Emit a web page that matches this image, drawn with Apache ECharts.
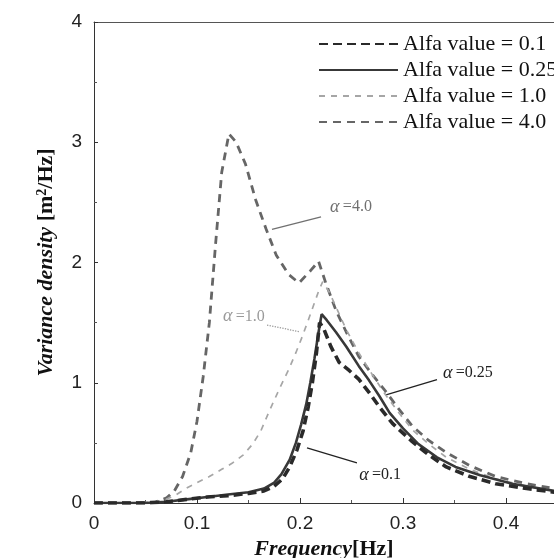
<!DOCTYPE html>
<html>
<head>
<meta charset="utf-8">
<script src="https://cdn.jsdelivr.net/npm/echarts@6/dist/echarts.min.js"></script>
<style>html,body{margin:0;padding:0;background:#fff}#c{width:554px;height:558px}</style>
</head>
<body>
<div id="c"></div>
<script>
// ---- data ----
const seriesNames = ['Alfa value = 0.1', 'Alfa value = 0.25', 'Alfa value = 1.0', 'Alfa value = 4.0'];
const xTicks = [0, 0.1, 0.2, 0.3, 0.4];
const yTicks = [0, 1, 2, 3, 4];

const f01 = [0, 0.05, 0.07, 0.09, 0.11, 0.13, 0.15, 0.165, 0.175, 0.183, 0.19, 0.197, 0.203, 0.208, 0.212, 0.216, 0.219, 0.223, 0.23, 0.238, 0.248, 0.257, 0.267, 0.277, 0.29, 0.309, 0.325, 0.342, 0.365, 0.39, 0.42, 0.447];
const v01 = [0, 0, 0.01, 0.03, 0.05, 0.06, 0.08, 0.1, 0.14, 0.2, 0.3, 0.44, 0.6, 0.8, 1.0, 1.25, 1.5, 1.45, 1.3, 1.17, 1.1, 1.03, 0.92, 0.8, 0.66, 0.51, 0.4, 0.3, 0.22, 0.16, 0.12, 0.09];

const f025 = [0, 0.05, 0.07, 0.09, 0.11, 0.13, 0.15, 0.165, 0.175, 0.182, 0.19, 0.196, 0.201, 0.206, 0.21, 0.214, 0.218, 0.221, 0.226, 0.235, 0.245, 0.257, 0.267, 0.277, 0.287, 0.3, 0.315, 0.333, 0.351, 0.375, 0.406, 0.447];
const v025 = [0, 0, 0.01, 0.03, 0.05, 0.07, 0.09, 0.12, 0.17, 0.24, 0.36, 0.5, 0.65, 0.82, 1.0, 1.2, 1.42, 1.57, 1.52, 1.42, 1.3, 1.14, 1.02, 0.89, 0.75, 0.62, 0.49, 0.38, 0.3, 0.23, 0.16, 0.1];

const f10 = [0, 0.04, 0.06, 0.07, 0.08, 0.089, 0.1, 0.112, 0.124, 0.134, 0.145, 0.154, 0.162, 0.17, 0.18, 0.189, 0.196, 0.202, 0.208, 0.213, 0.218, 0.222, 0.228, 0.235, 0.245, 0.257, 0.27, 0.283, 0.296, 0.309, 0.325, 0.342, 0.365, 0.39, 0.42, 0.447];
const v10 = [0, 0, 0.01, 0.03, 0.07, 0.12, 0.17, 0.22, 0.28, 0.33, 0.4, 0.49, 0.6, 0.76, 0.95, 1.11, 1.25, 1.38, 1.52, 1.64, 1.76, 1.84, 1.76, 1.63, 1.44, 1.25, 1.07, 0.9, 0.75, 0.61, 0.49, 0.38, 0.28, 0.2, 0.14, 0.1];

const f40 = [0, 0.04, 0.06, 0.07, 0.078, 0.086, 0.094, 0.1, 0.106, 0.112, 0.118, 0.124, 0.131, 0.138, 0.147, 0.157, 0.167, 0.177, 0.189, 0.199, 0.21, 0.218, 0.225, 0.235, 0.245, 0.257, 0.27, 0.283, 0.296, 0.309, 0.325, 0.342, 0.365, 0.39, 0.42, 0.447];
const v40 = [0, 0, 0.01, 0.04, 0.1, 0.22, 0.42, 0.68, 1.05, 1.5, 2.15, 2.75, 3.07, 3.0, 2.82, 2.52, 2.28, 2.06, 1.9, 1.83, 1.93, 2.01, 1.83, 1.6, 1.42, 1.22, 1.07, 0.93, 0.78, 0.64, 0.52, 0.42, 0.31, 0.22, 0.16, 0.12];

// annotations: label, text position [f, v], arrow from, arrow to
const annLabels = ['=4.0', '=1.0', '=0.25', '=0.1'];
const annText = [[0.2495, 2.46], [0.1456, 1.55], [0.363, 1.08], [0.2777, 0.233]];
const annFrom = [[0.2204, 2.38], [0.168, 1.48], [0.333, 1.025], [0.2553, 0.333]];
const annTo = [[0.1728, 2.275], [0.199, 1.425], [0.2835, 0.9], [0.2068, 0.458]];

const zip = (a, b) => a.map((x, i) => [x, b[i]]);

const styles = [
  {color: '#2a2a2a', width: 3.6, type: [9, 5], ann: '#222', arrow: true},
  {color: '#383838', width: 2.6, type: 'solid', ann: '#222', arrow: true},
  {color: '#a6a6a6', width: 1.7, type: [6, 6], ann: '#9a9a9a', arrow: false},
  {color: '#666666', width: 2.8, type: [8, 6], ann: '#707070', arrow: true}
];
const dataSets = [zip(f01, v01), zip(f025, v025), zip(f10, v10), zip(f40, v40)];
const annIndex = [3, 2, 1, 0]; // which annotation belongs to each series

const chart = echarts.init(document.getElementById('c'), null, {renderer: 'canvas'});

const series = seriesNames.map((name, i) => {
  const s = styles[i];
  const a = annIndex[i];
  return {
    name, type: 'line', data: dataSets[i], symbol: 'none', smooth: false, z: 10 - i,
    lineStyle: {color: s.color, width: s.width, type: s.type},
    itemStyle: {color: s.color},
    markLine: {
      silent: true, animation: false,
      symbol: ['none', s.arrow ? 'arrow' : 'none'], symbolSize: [0, 9],
      lineStyle: {color: s.ann, width: 1.3, type: s.arrow ? 'solid' : 'dotted'},
      label: {show: false},
      data: [[{coord: annFrom[a]}, {coord: annTo[a]}]]
    },
    markPoint: {
      silent: true, animation: false, symbol: 'circle', symbolSize: 0,
      label: {
        show: true, position: 'inside',
        formatter: '{g|α} {t|' + annLabels[a] + '}',
        rich: {
          g: {fontFamily: 'Liberation Serif', fontStyle: 'italic', fontSize: 18, color: s.ann},
          t: {fontFamily: 'Liberation Serif', fontSize: 16, color: s.ann}
        }
      },
      data: [{coord: annText[a]}]
    }
  };
});

chart.setOption({
  animation: false,
  backgroundColor: '#fff',
  grid: {left: 94, right: 0, top: 22, bottom: 55, containLabel: false, outerBoundsMode: 'none'},
  legend: {
    orient: 'vertical', left: 313, top: 28, itemWidth: 79, itemHeight: 14, itemGap: 4,
    selectedMode: false,
    itemStyle: {color: 'rgba(0,0,0,0)', opacity: 0, borderWidth: 0},
    textStyle: {fontFamily: 'Liberation Serif', fontSize: 22, color: '#111'},
    data: seriesNames
  },
  xAxis: [{
    type: 'value', min: 0, max: 0.4466, interval: 0.1,
    axisLine: {lineStyle: {color: '#333', width: 1}},
    axisTick: {inside: true, length: 5, lineStyle: {color: '#333'}},
    minorTick: {show: true, splitNumber: 2, length: 3, lineStyle: {color: '#555'}},
    splitLine: {show: false},
    axisLabel: {
      fontFamily: 'Liberation Sans', fontSize: 19, color: '#222', margin: 11,
      formatter: v => xTicks.some(t => Math.abs(t - v) < 1e-9) ? String(+v.toFixed(1)) : ''
    },
    name: '{i|Frequency}{n|[Hz]}', nameLocation: 'middle', nameGap: 29,
    nameTextStyle: {
      rich: {
        i: {fontFamily: 'Liberation Serif', fontStyle: 'italic', fontWeight: 'bold', fontSize: 22, color: '#111'},
        n: {fontFamily: 'Liberation Serif', fontWeight: 'bold', fontSize: 22, color: '#111'}
      }
    }
  }, {
    type: 'value', position: 'top', min: 0, max: 0.4466,
    axisLine: {show: true, onZero: false, lineStyle: {color: '#555', width: 1}},
    axisTick: {show: false}, axisLabel: {show: false}, splitLine: {show: false}
  }],
  yAxis: {
    type: 'value', min: 0, max: 4, interval: 1,
    axisLine: {show: true, lineStyle: {color: '#333', width: 1}},
    axisTick: {show: true, inside: true, length: 4, lineStyle: {color: '#333'}},
    minorTick: {show: true, splitNumber: 2, length: 3, lineStyle: {color: '#555'}},
    splitLine: {show: false},
    axisLabel: {
      fontFamily: 'Liberation Sans', fontSize: 19, color: '#222', margin: 12,
      formatter: v => yTicks.includes(v) ? String(v) : ''
    },
    name: '{i|Variance density }{n|[m}{s|2}{n|/Hz]}', nameLocation: 'middle', nameGap: 36,
    nameTextStyle: {
      rich: {
        i: {fontFamily: 'Liberation Serif', fontStyle: 'italic', fontWeight: 'bold', fontSize: 22, color: '#111'},
        n: {fontFamily: 'Liberation Serif', fontWeight: 'bold', fontSize: 22, color: '#111'},
        s: {fontFamily: 'Liberation Serif', fontWeight: 'bold', fontSize: 14, color: '#111', verticalAlign: 'top', padding: [0, 0, 9, 0]}
      }
    }
  },
  series
});
</script>
</body>
</html>
